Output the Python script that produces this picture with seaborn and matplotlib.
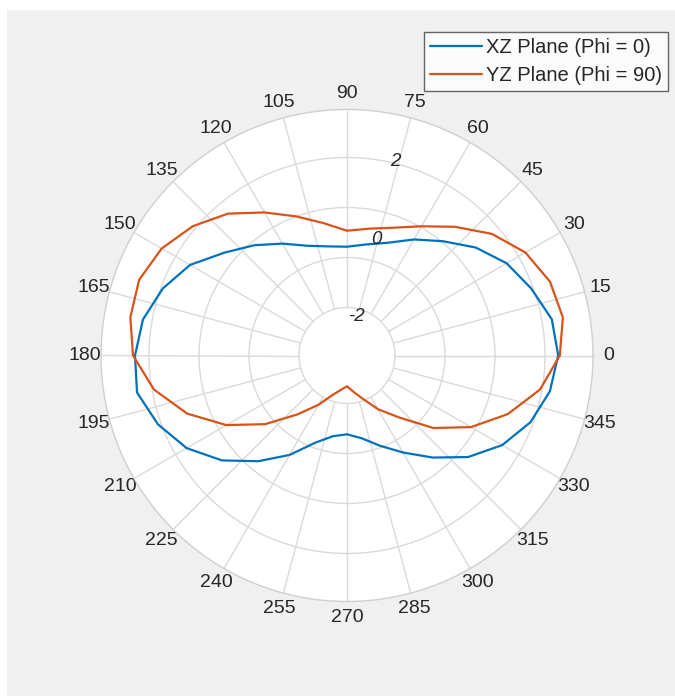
import numpy as np
import pandas as pd
import matplotlib
matplotlib.use("Agg")
import matplotlib.pyplot as plt
from matplotlib.patches import Rectangle
import seaborn as sns

# ---------------- data (gain in dB) ----------------
angles_deg = list(range(0, 361, 10))
xz_gain = [2.28, 2.20, 1.90, 1.61, 1.20, 0.73, 0.35, 0.00, -0.18, -0.28,
           -0.23, -0.08, 0.23, 0.60, 1.00, 1.53, 1.90, 2.18, 2.30, 2.33,
           2.03, 1.63, 1.08, 0.45, -0.13, -0.68, -0.95, -1.03, -0.90, -0.60,
           -0.20, 0.33, 0.95, 1.48, 1.88, 2.15, 2.28]
yz_gain = [2.32, 2.48, 2.40, 2.15, 1.73, 1.20, 0.73, 0.40, 0.22, 0.12,
           0.36, 0.70, 1.13, 1.63, 2.03, 2.35, 2.53, 2.50, 2.35, 1.90,
           1.25, 0.48, -0.33, -1.08, -1.58, -1.95, -2.13, -2.23, -2.08, -1.85,
           -1.45, -0.98, -0.18, 0.58, 1.28, 1.90, 2.32]
series_names = ["XZ Plane (Phi = 0)", "YZ Plane (Phi = 90)"]
theta_ticks_deg = list(range(0, 360, 15))
theta_tick_labels = [str(a) for a in theta_ticks_deg]
r_label_values = [-2, 0, 2]
r_label_texts = ["-2", "0", "2"]

# ---------------- style ----------------
sns.set_theme(style="white")
plt.rcParams["font.family"] = ["Liberation Sans", "DejaVu Sans"]

BLUE = "#0072BD"
ORANGE = "#D95319"
GRID = "#dadada"
TEXT = "#262626"

W, H = 675, 696
fig = plt.figure(figsize=(W / 100, H / 100), dpi=100, facecolor="white")
fig.patches.append(Rectangle((7 / W, 0), 1, (H - 10) / H, transform=fig.transFigure,
                             facecolor="#f0f0f0", edgecolor="none", zorder=-10))

cx, cy, R = 347, 355.5, 246
ax = fig.add_axes([(cx - R) / W, (H - cy - R) / H, 2 * R / W, 2 * R / H],
                  projection="polar")
ax.set_facecolor("white")

df = pd.DataFrame({
    "theta": np.deg2rad(angles_deg * 2),
    "gain": xz_gain + yz_gain,
    "series": [series_names[0]] * len(angles_deg) + [series_names[1]] * len(angles_deg),
})
sns.lineplot(data=df, x="theta", y="gain", hue="series", palette=[BLUE, ORANGE],
             sort=False, estimator=None, linewidth=1.6, legend=False, ax=ax, zorder=3)

r_min, r_max = -3.0, 3.15
r_inner = -1.8
ax.set_rlim(r_min, r_max)
ax.set_yticks([r_inner, -0.55, 0.7, 1.95])
ax.set_yticklabels([])
ax.yaxis.grid(True, color=GRID, linewidth=1.0)
ax.xaxis.grid(False)
ax.vlines(np.deg2rad(theta_ticks_deg), r_inner, r_max, colors=GRID, linewidth=1.0, zorder=1)

ax.set_xticks(np.deg2rad(theta_ticks_deg))
ax.set_xticklabels(theta_tick_labels, fontsize=14, color=TEXT)
ax.tick_params(axis="x", pad=-1.5)
ax.spines["polar"].set_color("#cfcfcf")
ax.spines["polar"].set_linewidth(1.0)
ax.set_xlabel("")
ax.set_ylabel("")

for v, t in zip(r_label_values, r_label_texts):
    ax.text(np.deg2rad(76), v, t, ha="center", va="center", fontsize=13.5,
            style="italic", color=TEXT, zorder=4)

lines = ax.get_lines()[:2]
leg = ax.legend(lines, series_names, loc="upper right",
                bbox_to_anchor=(668 / W, (H - 32) / H), bbox_transform=fig.transFigure,
                frameon=True, fancybox=False, fontsize=14.5, handlelength=2.6,
                handletextpad=0.2, borderpad=0.3, labelspacing=0.45,
                borderaxespad=0)
leg.get_frame().set_edgecolor("#404040")
leg.get_frame().set_linewidth(1.0)
leg.get_frame().set_facecolor("white")
for txt in leg.get_texts():
    txt.set_color(TEXT)

fig.savefig("out.png", dpi=100, facecolor=fig.get_facecolor())
